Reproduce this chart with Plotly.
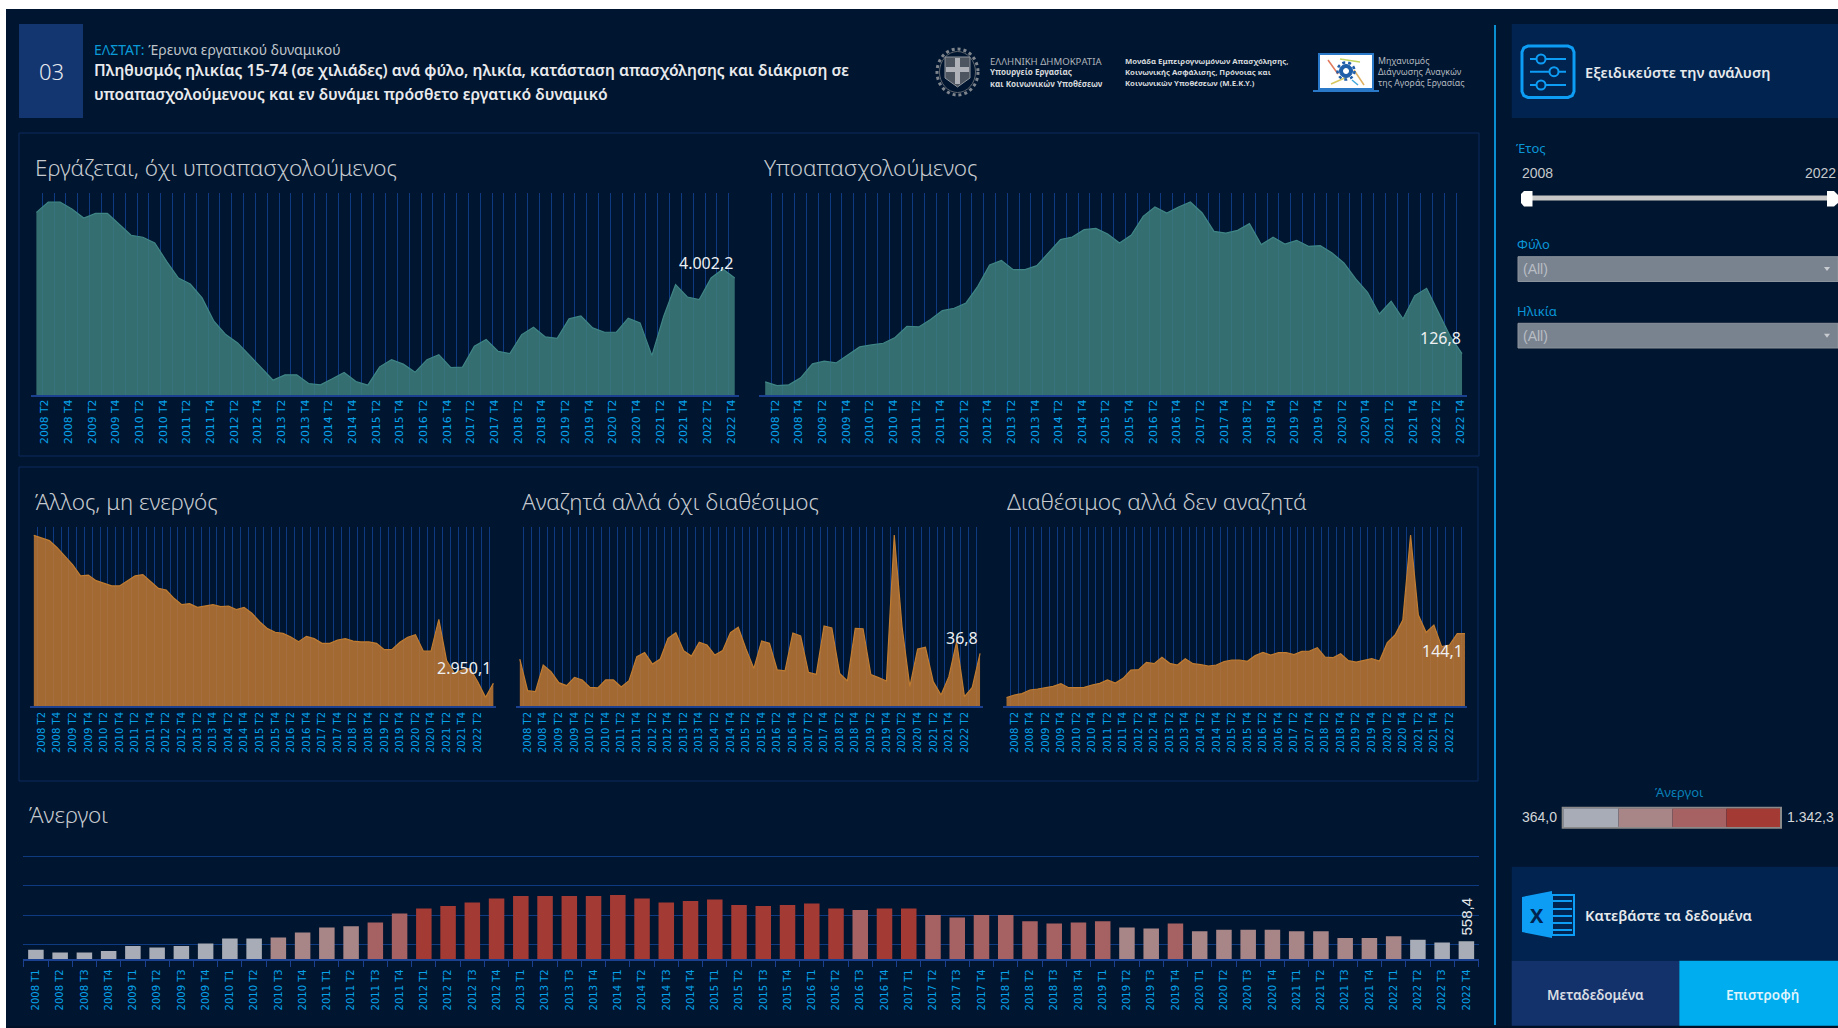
import plotly.graph_objects as go

W, H = 1838, 1028
YEARS = list(range(2008, 2023))
QUARTERS = [f"{y} T{q}" for y in YEARS for q in (1, 2, 3, 4)]
POS = list(range(60))

employed = [4395,4457,4457,4415,4361,4389,4389,4321,4258,4246,4212,4102,4002,3966,3883,3743,3663,3613,3537,3464,
            3390,3422,3422,3370,3362,3398,3436,3382,3360,3470,3513,3486,3438,3513,3543,3466,3468,3593,3633,3563,
            3549,3663,3707,3649,3641,3757,3775,3703,3677,3677,3761,3733,3537,3773,3962,3888,3873,4002,4056,4002.2]
underemployed = [81.4,75.5,76.6,87.8,110.2,114.5,111.8,124.7,137.5,140.7,143.4,152.5,170.6,169.6,181.3,195.7,199.5,208,234.7,269,
                 276.4,261.5,261.5,267.9,288.2,309.6,313.8,325.6,327.7,318.6,304.2,317,347,361.9,352.3,361.9,370,352.3,322.9,320.2,
                 324.5,335.2,301.6,313.3,302.6,308.5,298.9,299.9,288.2,272.2,246.5,225.1,190.4,210.7,182.4,219.8,231.5,192,154.6,126.8]
inactive = [3930,3912,3895,3848,3789,3734,3661,3667,3630,3610,3595,3595,3630,3661,3670,3623,3579,3568,3513,3471,
            3478,3453,3462,3471,3458,3462,3438,3453,3414,3358,3312,3288,3281,3257,3226,3261,3246,3215,3215,3237,
            3246,3230,3224,3224,3215,3173,3175,3222,3255,3272,3164,3164,3374,3100,3016,3038,3049,2961,2857,2950.1]
seeking = [32.8,10.7,10.0,28.6,24.0,16.3,14.2,20.0,18.2,13.0,12.6,18.2,18.2,13.3,17.7,34.5,37.3,29.3,32.8,47.3,
           51.2,38.7,34.9,44.5,42.6,35.6,38.7,51.2,55.0,39.8,26.3,45.4,43.8,25.2,24.5,51.0,48.9,23.5,22.1,55.9,
           54.5,22.8,17.5,54.3,54.0,21.9,19.8,17.5,119.5,55.4,13.5,39.8,41.0,17.0,7.7,20.5,44.9,6.5,13.0,36.8]
available = [16.6,21.9,24.6,31.9,33.9,36.5,39.2,44.5,36.5,36.5,37.2,41.8,45.2,51.8,45.8,55.1,71.7,72.4,87.0,84.3,
             96.9,85.0,81.7,94.3,84.3,82.3,79.7,81.7,88.3,91.6,91.6,89.0,100.3,106.9,101.6,106.2,106.2,102.3,108.9,109.6,
             116.2,97.6,96.3,104.2,90.3,87.6,91.6,94.3,89.6,126.2,141.4,171.3,340.6,181.3,146.7,161.4,118.2,121.5,144.1,144.1]
unemployed = [412,364,364,389,474,451,474,519,604,604,621,705,790,812,875,1027,1112,1157,1213,1281,
              1326,1326,1326,1326,1342.3,1281,1213,1241,1264,1174,1157,1174,1196,1112,1089,1112,1112,1004,959,1004,
              1004,897,858,875,897,790,773,858,728,751,751,751,728,728,612,612,643,581,536,558.4]

BG = "#00152f"
PANEL = "#00234f"
GRID = "#0d3a80"
AXIS = "#1b4090"
TICK = "#08a2ea"
BLUE = "#0d9df5"
TEAL_FILL, TEAL_LINE = "rgba(62,126,124,0.85)", "#3f8585"
ORANGE_FILL, ORANGE_LINE = "rgba(192,120,52,0.85)", "#c07c30"
BINS = [(608.6, "#a7acb6"), (853.1, "#a88688"), (1097.7, "#a66262"), (1e9, "#a33a34")]
SANS = "Noto Sans"
ARIAL = "Liberation Sans"
TICKFONT = "DejaVu Sans"


def X(p): return p / W
def Y(p): return 1 - p / H


shapes, notes = [], []


def rect(x0, y0, x1, y1, fill="rgba(0,0,0,0)", line=None, lw=0):
    shapes.append(dict(type="rect", xref="paper", yref="paper", x0=X(x0), x1=X(x1), y0=Y(y0), y1=Y(y1),
                       fillcolor=fill, line=dict(color=line or fill, width=lw), layer="below"))


def seg(x0, y0, x1, y1, color, lw=1, dash="solid"):
    shapes.append(dict(type="line", xref="paper", yref="paper", x0=X(x0), x1=X(x1), y0=Y(y0), y1=Y(y1),
                       line=dict(color=color, width=lw, dash=dash), layer="below"))


def circle(cx, cy, rx, ry, fill="rgba(0,0,0,0)", line="rgba(0,0,0,0)", lw=1, dash="solid"):
    shapes.append(dict(type="circle", xref="paper", yref="paper", x0=X(cx - rx), x1=X(cx + rx), y0=Y(cy - ry),
                       y1=Y(cy + ry), fillcolor=fill, line=dict(color=line, width=lw, dash=dash), layer="below"))


def poly(points, fill, line=None, lw=0):
    path = "M " + " L ".join(f"{X(a):.5f},{Y(b):.5f}" for a, b in points) + " Z"
    shapes.append(dict(type="path", xref="paper", yref="paper", path=path, fillcolor=fill,
                       line=dict(color=line or fill, width=lw), layer="below"))


def rounded(x0, y0, x1, y1, r, color, lw):
    p = [(x0 + r, y0), (x1 - r, y0), (x1 - r * .3, y0 + r * .3), (x1, y0 + r), (x1, y1 - r), (x1 - r * .3, y1 - r * .3),
         (x1 - r, y1), (x0 + r, y1), (x0 + r * .3, y1 - r * .3), (x0, y1 - r), (x0, y0 + r), (x0 + r * .3, y0 + r * .3)]
    poly(p, "rgba(0,0,0,0)", color, lw)


def txt(x, y, s, size, color, family=SANS, weight=None, anchor="left", angle=0):
    f = dict(size=size, color=color, family=family)
    if weight:
        f["weight"] = weight
    notes.append(dict(xref="paper", yref="paper", x=X(x), y=Y(y), text=s, showarrow=False, font=f,
                      xanchor=anchor, yanchor="middle", align=anchor, textangle=angle, borderpad=0, borderwidth=0))


fig = go.Figure()
layout = {}


def area(idx, values, ybase, ytop, x_px, y_px, x_rng, fill, line, ticks, label, xs, ys, tick_offset, tsize, stand):
    sfx = "" if idx == 1 else str(idx)
    fig.add_trace(go.Scatter(x=POS, y=values, mode="lines", fill="tozeroy", fillcolor=fill,
                             line=dict(color=line, width=1.2), xaxis=f"x{sfx}", yaxis=f"y{sfx}",
                             hoverinfo="skip", showlegend=False))
    layout[f"xaxis{sfx}"] = dict(domain=[X(x_px[0]), X(x_px[1])], range=x_rng, anchor=f"y{sfx}",
                                 tickmode="array", tickvals=[i + tick_offset for i in ticks],
                                 ticktext=[QUARTERS[i] for i in ticks], tickangle=-90,
                                 tickfont=dict(family=TICKFONT, size=tsize, color=TICK), ticks="",
                                 ticklabelstandoff=stand,
                                 showgrid=False, zeroline=False, showline=True, linecolor=AXIS, linewidth=2,
                                 minor=dict(tickmode="linear", tick0=0.5, dtick=1, showgrid=True,
                                            gridcolor=GRID, gridwidth=1, ticks=""))
    layout[f"yaxis{sfx}"] = dict(domain=[Y(y_px[1]), Y(y_px[0])], range=[ybase, ytop], anchor=f"x{sfx}",
                                 showgrid=False, zeroline=False, showticklabels=False, showline=False, ticks="")
    notes.append(dict(xref=f"x{sfx}", yref=f"y{sfx}", x=POS[-1], y=values[-1], text=label, showarrow=False,
                      font=dict(family=SANS, size=16, color="#eef0f2"), xanchor="right", yanchor="middle",
                      xshift=xs, yshift=ys))


# page
rect(0, 0, W, H, "#ffffff")
rect(6, 9, W, H, BG)
rect(6, 1026, W, H, "#001026")

# header
rect(19, 24, 83, 118, "#133670")
txt(51.5, 71, "03", 22, "#e6e9ee", anchor="center", weight=300)
txt(94, 49, f'<span style="color:#0a9ad8">ΕΛΣΤΑΤ:</span> Έρευνα εργατικού δυναμικού', 14, "#bfc4ca")
txt(94, 70, "Πληθυσμός ηλικίας 15-74 (σε χιλιάδες) ανά φύλο, ηλικία, κατάσταση απασχόλησης και διάκριση σε", 15.7, "#e8eaed", weight=600)
txt(94, 94, "υποαπασχολούμενους και εν δυνάμει πρόσθετο εργατικό δυναμικό", 15.7, "#e8eaed", weight=600)

# emblem
circle(957.5, 72, 20.5, 23, line="#7f858d", lw=3, dash="dot")
circle(957.5, 72, 18, 20.5, line="#5f656e", lw=1)
poly([(945, 57), (970, 57), (970, 78), (957.5, 87), (945, 78)], "#4d5560", "#8f959d", 1)
rect(955, 58, 960, 84, "#aeb2b8")
rect(946, 67, 969, 72, "#aeb2b8")
txt(989.5, 61, "ΕΛΛΗΝΙΚΗ ΔΗΜΟΚΡΑΤΙΑ", 9.6, "#aeb4bb")
txt(989.5, 72, "Υπουργείο Εργασίας", 8.1, "#d5d8dc", weight=700)
txt(989.5, 83, "και Κοινωνικών Υποθέσεων", 8.1, "#d5d8dc", weight=700)
txt(1125, 61, "Μονάδα Εμπειρογνωμόνων Απασχόλησης,", 7.75, "#d5d8dc", weight=700)
txt(1125, 72, "Κοινωνικής Ασφάλισης, Πρόνοιας και", 7.75, "#d5d8dc", weight=700)
txt(1125, 83, "Κοινωνικών Υποθέσεων (Μ.Ε.Κ.Υ.)", 7.75, "#d5d8dc", weight=700)

# computer logo
rect(1319, 54, 1373, 89, "#ffffff", "#2a78c8", 2)
seg(1313, 91, 1379, 91, "#2a78c8", 2)
seg(1328, 60, 1338, 74, "#e0785a", 1.5)
seg(1340, 59, 1360, 62, "#c5d560", 1.5)
seg(1354, 70, 1364, 85, "#e0b060", 1.5)
seg(1331, 84, 1347, 77, "#d8c860", 1.5)
seg(1352, 80, 1358, 85, "#40a8dc", 1.5)
circle(1346, 71, 8.5, 8.5, line="#1f5ea8", lw=2.5, dash="dot")
circle(1346, 71, 6.5, 6.5, "#1f5ea8", "#1f5ea8")
circle(1346, 71, 2.5, 2.5, "#ffffff", "#ffffff")
txt(1377.5, 61, "Μηχανισμός", 8.8, "#b4b9c0")
txt(1377.5, 72, "Διάγνωσης Αναγκών", 8.8, "#b4b9c0")
txt(1377.5, 83, "της Αγοράς Εργασίας", 8.8, "#b4b9c0")

# panels
rect(19, 133, 1479, 456, line="#0a2a60", lw=1)
rect(19, 467, 1478, 781, line="#0a2a60", lw=1)
seg(1495, 25, 1495, 1025, "#0a8fd0", 2)

# chart titles
TITLE = "#c6cacf"
txt(35, 167.5, "Εργάζεται, όχι υποαπασχολούμενος", 22.5, TITLE, weight=300)
txt(764, 167.5, "Υποαπασχολούμενος", 22.5, TITLE, weight=300)
txt(35, 501, "Άλλος, μη ενεργός", 22.5, TITLE, weight=300)
txt(521.5, 501, "Αναζητά αλλά όχι διαθέσιμος", 22.5, TITLE, weight=300)
txt(1007, 501, "Διαθέσιμος αλλά δεν αναζητά", 22.5, TITLE, weight=300)
txt(29, 814, "Άνεργοι", 22.5, TITLE, weight=300)

TOP_TICKS = list(range(1, 60, 2))
LOW_TICKS = list(range(1, 58, 2))

area(1, employed, 3300, 4511, (30.5, 739), (193, 395.2), [-0.498, 59.36], TEAL_FILL, TEAL_LINE, TOP_TICKS, "4.002,2", 0, 15, -0.3, 10.8, -2)
area(2, underemployed, 60, 384.4, (759.4, 1467), (193, 395.2), [-0.49, 59.42], TEAL_FILL, TEAL_LINE, TOP_TICKS, "126,8", 1, 16, -0.15, 10.8, -2)
area(3, inactive, 2800, 3987, (30, 496), (526.7, 706), [-0.49, 59.34], ORANGE_FILL, ORANGE_LINE, LOW_TICKS, "2.950,1", 0, 15, 0, 10, 0)
area(4, seeking, 0, 125.3, (516, 982.7), (526.7, 706), [-0.49, 59.34], ORANGE_FILL, ORANGE_LINE, LOW_TICKS, "36,8", 0, 15, 0, 10, 0)
area(5, available, 0, 357.2, (1002.7, 1467.3), (526.7, 706), [-0.49, 59.3], ORANGE_FILL, ORANGE_LINE, LOW_TICKS, "144,1", 0, -17, 0, 10, 0)


def bin_color(v):
    for limit, color in BINS:
        if v <= limit:
            return color


# bars
fig.add_trace(go.Bar(x=POS, y=unemployed, marker=dict(color=[bin_color(v) for v in unemployed], line=dict(width=0)),
                     xaxis="x6", yaxis="y6", width=0.64, base=0, hoverinfo="skip", showlegend=False))
layout["xaxis6"] = dict(domain=[X(23.3), X(1479)], range=[-0.52, 59.52], anchor="y6", tickmode="array",
                        tickvals=POS, ticktext=QUARTERS, tickangle=-90,
                        tickfont=dict(family=TICKFONT, size=10, color=TICK), ticks="", showgrid=False,
                        zeroline=False, showline=True, linecolor=AXIS, linewidth=2, ticklabelstandoff=4,
                        minor=dict(tickmode="linear", tick0=0.5, dtick=1, ticks="outside", ticklen=6,
                                   tickcolor=AXIS, tickwidth=1, showgrid=False))
layout["yaxis6"] = dict(domain=[Y(959.3), Y(853.9)], range=[250, 2040], anchor="x6", tickmode="array",
                        tickvals=[500, 1000, 1500, 2000], showticklabels=False, showgrid=True, gridcolor=GRID,
                        gridwidth=1, zeroline=False, showline=False, ticks="")
notes.append(dict(xref="x6", yref="y6", x=POS[-1], y=unemployed[-1], text="558,4", showarrow=False, textangle=-90,
                  font=dict(family=ARIAL, size=15, color="#e6e8ea"), xanchor="center", yanchor="bottom", yshift=4))

# sidebar top
rect(1511.7, 24, W, 118, PANEL)
rounded(1522, 46, 1574, 97.5, 6, BLUE, 3)
for ly, cx in ((59, 1541), (71.7, 1554), (85, 1541)):
    seg(1530, ly, 1566, ly, BLUE, 2)
    circle(cx, ly, 4.5, 4.5, PANEL, BLUE, 2)
txt(1585, 72, "Εξειδικεύστε την ανάλυση", 14.6, "#e6e9ec", weight=600)

txt(1516, 148, "Έτος", 13, "#0a95d8")
txt(1521.5, 173, "2008", 14, "#c6c9cc", family=ARIAL)
txt(1836, 173, "2022", 14, "#c6c9cc", family=ARIAL, anchor="right")
rect(1531, 195.5, 1828, 200.5, "#c8c8c8")
poly([(1524, 191), (1532.5, 191), (1532.5, 206.5), (1524, 206.5), (1521, 203), (1521, 194)], "#ffffff")
poly([(1827, 191), (1834, 191), (1838, 195), (1838, 203), (1834, 206.5), (1827, 206.5)], "#ffffff")

for label, ty, d0, d1 in (("Φύλο", 244, 256.7, 281.5), ("Ηλικία", 310.7, 323.3, 348)):
    txt(1516.5, ty, label, 13, "#0a95d8")
    rect(1518, d0, W, d1, "#798390", "#8a929c", 1)
    txt(1523, (d0 + d1) / 2, "(All)", 14, "#b8bdc4", family=ARIAL)
    cy = (d0 + d1) / 2
    poly([(1824, cy - 2), (1830, cy - 2), (1827, cy + 2)], "#c8ccd0")

# colour legend
txt(1679, 791.7, "Άνεργοι", 13, "#0a80b8", anchor="center")
txt(1557, 817, "364,0", 14, "#d3d6d9", family=ARIAL, anchor="right")
txt(1786.7, 817, "1.342,3", 14, "#d3d6d9", family=ARIAL)
rect(1562.7, 807.7, 1781, 827.7, "rgba(0,0,0,0)", "#8a8a8a", 2)
edges = [1563.5, 1618.5, 1672.5, 1726.5, 1780]
for k, (_, col) in enumerate(BINS):
    rect(edges[k], 808.5, edges[k + 1], 827, col)

# sidebar bottom
rect(1511.7, 866.7, W, 960.7, PANEL)
poly([(1522, 897), (1552, 891), (1552, 938), (1522, 932)], BLUE)
rect(1552, 895, 1574, 935, "rgba(0,0,0,0)", BLUE, 2)
for ly in (901, 909, 916, 923, 930):
    seg(1553, ly, 1572, ly, BLUE, 2)
txt(1537, 915, "X", 20, "#00234f", weight=700, anchor="center")
txt(1585, 915, "Κατεβάστε τα δεδομένα", 14.6, "#e6e9ec", weight=600)
rect(1511.7, 960.7, 1679.3, 1025.7, "#13326c")
rect(1679.3, 960.7, W, 1025.7, "#00aeef")
txt(1595.7, 995, "Μεταδεδομένα", 13.5, "#d9dde3", weight=600, anchor="center")
txt(1762.7, 995, "Επιστροφή", 13.5, "#dff3fb", weight=600, anchor="center")

fig.update_layout(width=W, height=H, autosize=False, margin=dict(l=0, r=0, t=0, b=0, pad=0),
                  paper_bgcolor="#ffffff", plot_bgcolor="rgba(0,0,0,0)", showlegend=False,
                  shapes=shapes, annotations=notes, font=dict(family=SANS), **layout)

fig.write_html("out.html", config=dict(displayModeBar=False),
               post_script="document.body.style.margin='0';document.body.style.overflow='hidden';")
